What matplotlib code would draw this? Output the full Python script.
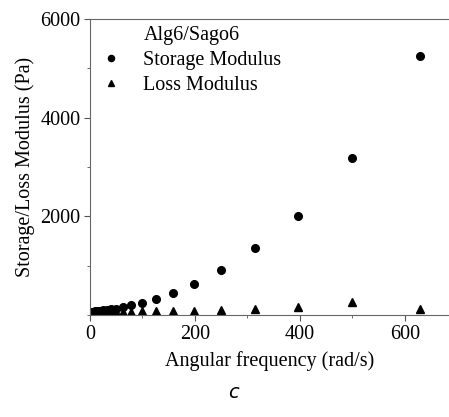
import matplotlib
matplotlib.use('Agg')
import matplotlib.pyplot as plt
from matplotlib.ticker import MultipleLocator
from matplotlib.lines import Line2D

# frequency sweep, rad/s
freq = [0.628, 0.791, 0.996, 1.25, 1.58, 1.99, 2.5, 3.15, 3.97, 5.0,
        6.28, 7.91, 9.96, 12.5, 15.8, 19.9, 25.0, 31.5, 39.7, 50.0,
        62.8, 79.1, 99.6, 125, 158, 199, 250, 315, 397, 500, 628]
storage = [40, 42, 44, 46, 48, 50, 53, 56, 59, 62,
           65, 69, 73, 78, 84, 90, 97, 105, 112, 125,
           155, 200, 248, 323, 444, 626, 909, 1350, 2006, 3192, 5255]
loss = [20, 21, 22, 23, 24, 25, 26, 27, 28, 30,
        32, 34, 36, 38, 41, 44, 48, 52, 56, 60,
        64, 70, 72, 75, 80, 88, 100, 121, 155, 257, 121]

plt.rcParams['font.family'] = ['Liberation Serif', 'DejaVu Serif']
fs = 14.5

fig = plt.figure(figsize=(4.49, 4.17), dpi=100)
ax = fig.add_axes([0.2004, 0.2446, 0.7996, 0.7098])

ax.plot(freq, storage, 'o', color='black', markersize=5.5, label='Storage Modulus')
ax.plot(freq, loss, '^', color='black', markersize=5.5, label='Loss Modulus')

ax.set_xlim(0, 684)
ax.set_ylim(0, 6000)
ax.set_yticks([2000, 4000, 6000])
ax.yaxis.set_minor_locator(MultipleLocator(1000))
ax.xaxis.set_major_locator(MultipleLocator(200))
ax.xaxis.set_minor_locator(MultipleLocator(100))
ax.tick_params(which='both', direction='out', labelsize=fs, color='#555555')
ax.tick_params(which='major', length=4, pad=3)
ax.tick_params(which='minor', length=2.5)
for s in ['left', 'bottom', 'top']:
    ax.spines[s].set_color('#666666')
ax.spines['right'].set_visible(False)

ax.set_xlabel('Angular frequency (rad/s)', fontsize=fs, labelpad=5)
ax.set_ylabel('Storage/Loss Modulus (Pa)', fontsize=fs, labelpad=4)

blank = Line2D([], [], linestyle='none', marker='')
h, l = ax.get_legend_handles_labels()
ax.legend([blank] + h, ['Alg6/Sago6'] + l, loc='upper left', frameon=False,
          fontsize=fs, handletextpad=0.9, borderaxespad=0.0,
          labelspacing=0.28, handlelength=1.4, markerscale=0.8,
          borderpad=0.35)

fig.text(0.519, 0.058, 'c', fontsize=14, style='italic',
         family='DejaVu Sans', ha='center', va='center')

fig.savefig('out.png', dpi=100)
